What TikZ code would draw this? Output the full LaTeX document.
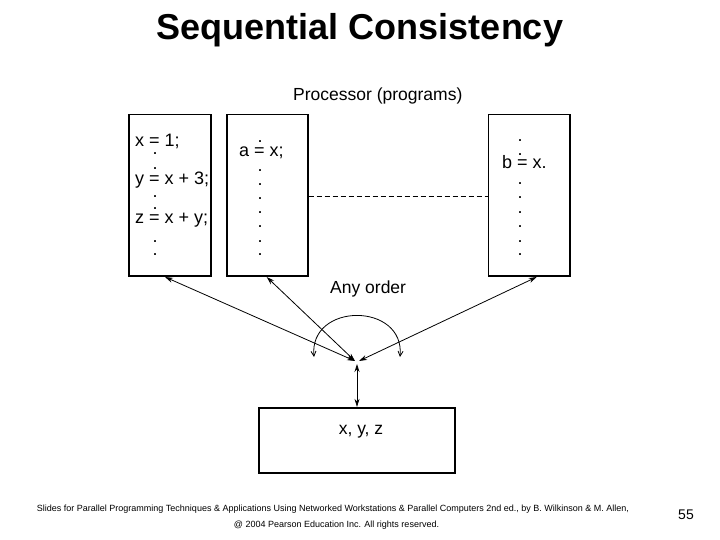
\documentclass[tikz,border=0pt]{standalone}
\usepackage{fontspec}
\setmainfont{Liberation Sans}
\usetikzlibrary{arrows.meta, positioning}

\tikzset{
    progbox/.style={draw, line width=1.6pt, minimum width=82pt, minimum height=161pt, inner sep=0pt},
    membox/.style={draw, line width=1.6pt, minimum width=196pt, minimum height=65pt, inner sep=0pt},
    code/.style={inner sep=0pt, font=\fontsize{18}{21}\selectfont},
    codedot/.style={inner sep=0pt, font=\fontsize{18}{21}\selectfont},
    link/.style={line width=0.8pt, {Stealth[length=8pt,width=5pt]}-{Stealth[length=8pt,width=5pt]}},
    turn/.style={line width=0.8pt, {Straight Barb[length=5pt,width=5pt]}-{Straight Barb[length=5pt,width=5pt]}},
    dashline/.style={line width=0.7pt, dash pattern=on 5pt off 3pt},
    label/.style={inner sep=0pt, font=\fontsize{17.5}{21}\selectfont}
}

\begin{document}
\begin{tikzpicture}[x=1pt, y=-1pt]
        \useasboundingbox (0,0) rectangle (720,540);

        \node[inner sep=0pt, anchor=base, font=\fontsize{36}{40}\selectfont\bfseries] (title) at (360,40) {Sequential Consistency};
        \node[label, anchor=base west] (proc) at (293,101) {Processor (programs)};

        % the three programs
        \node[progbox] (p1) at (169.7,195.2) {};
        \node[progbox, minimum width=81pt] (p2) at (267.2,195.2) {};
        \node[progbox, minimum width=81.7pt] (p3) at (529.2,195.2) {};

        \node[code, anchor=base west] (x1) at (135,146.5) {x = 1;};
        \node[code, anchor=base west] (y1) at (135,185) {y = x + 3;};
        \node[code, anchor=base west] (z1) at (135,224) {z = x + y;};
        \foreach \y in {153.3,168.3,196.7,208.3,241.7,255}
            \node[codedot] at (155,\y) {.};

        \node[code, anchor=base west] (a1) at (239,156.5) {a = x;};
        \foreach \y in {141.7,170.7,184.3,198.3,212.3,226.7,241.7,255}
            \node[codedot] at (260,\y) {.};

        \node[code, anchor=base west] (b1) at (502,168.3) {b = x.};
        \foreach \y in {141,154.3,183.3,197.7,212.3,226.7,241.7,255}
            \node[codedot] at (520,\y) {.};

        \draw[dashline] (p2.east |- 0,196.7) -- (p3.west |- 0,196.7);

        % memory
        \node[membox] (mem) at (357,440.2) {};
        \node[label, anchor=base] (vars) at (361,434.3) {x, y, z};

        \coordinate (e1) at (165,277);
        \coordinate (e2) at (266.7,277);
        \coordinate (e3) at (536.7,277);
        \coordinate (hub) at (355,361);
        \coordinate (hubr) at (359,361);
        \coordinate (top) at (357,364);

        \draw[link] (e1) -- (hub);
        \draw[link] (e2) -- (hub);
        \draw[link] (e3) -- (hubr);
        \draw[link] (top) -- (mem.north);

        \coordinate (arcl) at (314,357);
        \coordinate (arcr) at (400,357);
        \draw[turn] (arcl) .. controls (309,302) and (405,302) .. (arcr);
        \node[label, anchor=base west] (order) at (330,293.3) {Any order};

        % footer
        \node[inner sep=0pt, anchor=base, font=\fontsize{9}{11}\selectfont] (foot1) at (333,511) {Slides for Parallel Programming Techniques \& Applications Using Networked Workstations \& Parallel Computers 2nd ed., by B. Wilkinson \& M. Allen,};
        \node[inner sep=0pt, anchor=base, font=\fontsize{9}{11}\selectfont] (foot2) at (336.5,527) {@ 2004 Pearson Education Inc. All rights reserved.};
        \node[inner sep=0pt, anchor=base, font=\fontsize{14}{16}\selectfont] (page) at (686,519) {55};
    \end{tikzpicture}
\end{document}
